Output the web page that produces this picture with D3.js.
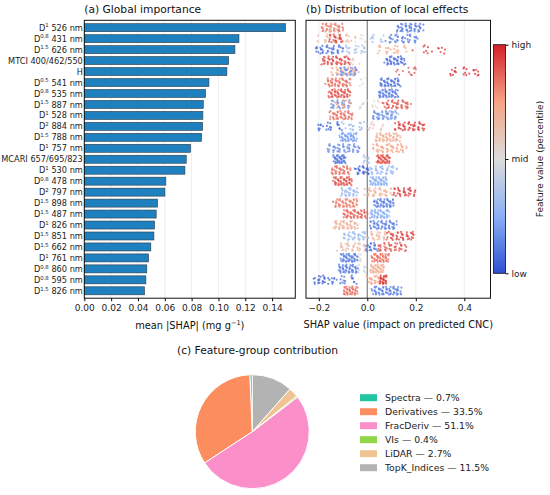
<!DOCTYPE html>
<html>
<head>
<meta charset="utf-8">
<script src="https://cdn.jsdelivr.net/npm/d3@7"></script>
<style>
  body { margin: 0; background: #fff; }
  svg { font-family: "DejaVu Sans", sans-serif; }
</style>
</head>
<body>
<div id="chart"></div>
<script>
// feature labels, "^" marks the derivative order
var features = [
  "D^1 526 nm", "D^0.8 431 nm", "D^1.5 626 nm", "MTCI 400/462/550", "H",
  "D^0.5 541 nm", "D^0.8 535 nm", "D^1.5 887 nm", "D^1 528 nm", "D^2 884 nm",
  "D^1.5 788 nm", "D^1 757 nm", "MCARI 657/695/823", "D^1 530 nm", "D^0.8 478 nm",
  "D^2 797 nm", "D^1.5 898 nm", "D^1.5 487 nm", "D^1 826 nm", "D^1.5 851 nm",
  "D^1.5 662 nm", "D^1 761 nm", "D^0.8 860 nm", "D^0.8 595 nm", "D^1.5 826 nm"
];
// mean |SHAP|
var meanShap = [
  0.150, 0.1153, 0.1123, 0.1076, 0.1063,
  0.0929, 0.0904, 0.0887, 0.0884, 0.0882,
  0.0874, 0.0792, 0.0760, 0.0750, 0.0608,
  0.0601, 0.0546, 0.0536, 0.0524, 0.0519,
  0.0496, 0.0479, 0.0466, 0.0459, 0.0449
];
var barTicks = [0, 0.02, 0.04, 0.06, 0.08, 0.10, 0.12, 0.14];

// local effects, read per row as groups of dots: [shap from, shap to, feature percentile (0-1), dots]
var localEffects = [
  [[-0.19,-0.10,0.85,40],[-0.17,-0.12,0.62,15],[0.12,0.23,0.10,45]],
  [[-0.20,-0.05,0.70,26],[-0.16,-0.10,0.95,20],[-0.05,0.0,0.50,7],[0.01,0.065,0.30,9],[0.08,0.21,0.12,38]],
  [[-0.215,-0.10,0.08,38],[-0.10,0.0,0.35,24],[0.04,0.16,0.72,24],[0.20,0.33,0.95,14]],
  [[-0.19,-0.07,0.92,52],[-0.07,-0.04,0.60,6],[0.073,0.155,0.08,42]],
  [[-0.15,-0.04,0.70,36],[-0.12,-0.04,0.15,30],[0.12,0.22,0.90,12],[0.33,0.47,0.97,22]],
  [[-0.17,-0.07,0.85,50],[-0.03,0.0,0.55,4],[0.05,0.135,0.10,46]],
  [[-0.16,-0.07,0.90,52],[0.045,0.127,0.12,48]],
  [[-0.155,-0.065,0.15,30],[-0.13,-0.07,0.75,14],[-0.05,0.06,0.55,14],[0.066,0.176,0.90,42]],
  [[-0.155,-0.06,0.85,46],[0.018,0.121,0.15,42],[0.06,0.12,0.30,12]],
  [[-0.215,-0.10,0.05,22],[-0.10,0.0,0.30,20],[0.0,0.07,0.60,12],[0.114,0.238,0.95,46]],
  [[-0.113,-0.044,0.20,45],[0.032,0.135,0.70,55]],
  [[-0.167,-0.03,0.15,50],[0.024,0.16,0.75,50]],
  [[-0.14,-0.09,0.10,42],[-0.02,0.01,0.35,12],[0.039,0.094,0.90,46]],
  [[-0.15,-0.07,0.85,38],[-0.05,0.01,0.05,24],[0.01,0.12,0.30,38]],
  [[-0.14,-0.064,0.90,50],[0.01,0.083,0.25,50]],
  [[-0.11,-0.04,0.30,32],[-0.01,0.10,0.70,36],[0.106,0.197,0.95,32]],
  [[-0.14,-0.04,0.82,52],[0.026,0.11,0.12,48]],
  [[-0.10,0.0,0.88,52],[0.01,0.09,0.25,48]],
  [[-0.14,-0.04,0.70,48],[0.01,0.12,0.12,52]],
  [[-0.10,0.0,0.30,36],[0.005,0.08,0.70,22],[0.08,0.197,0.93,42]],
  [[-0.12,0.0,0.65,38],[-0.005,0.04,0.10,20],[0.04,0.16,0.90,42]],
  [[-0.11,-0.04,0.12,46],[-0.04,-0.02,0.50,8],[0.018,0.09,0.85,46]],
  [[-0.12,-0.04,0.12,46],[-0.04,0.0,0.45,10],[0.01,0.07,0.70,44]],
  [[-0.22,-0.16,0.05,22],[-0.16,-0.04,0.08,22],[0.0,0.08,0.75,36],[0.05,0.08,0.97,20]],
  [[-0.10,-0.04,0.85,40],[0.02,0.14,0.12,60]]
];
var effectTicks = [-0.2, 0.0, 0.2, 0.4];
var colorbarTicks = [[0, "low"], [0.5, "mid"], [1, "high"]];

// feature groups
var groups = ["Spectra", "Derivatives", "FracDeriv", "VIs", "LiDAR", "TopK_Indices"];
var groupShare = [0.7, 33.5, 51.1, 0.4, 2.7, 11.5];
var groupColors = ["#22c4a2", "#fc8d5e", "#fb8fca", "#8fd64a", "#f0c393", "#b3b3b3"];

var width = 550, height = 495;
var svg = d3.select("#chart").append("svg")
  .attr("width", width).attr("height", height);

var rowTop = 20.3, rowBottom = 298.2;
var yScale = d3.scaleLinear().domain([-0.675, 24.675]).range([rowTop, rowBottom]);
var step = yScale(1) - yScale(0);

// ---------- (a) global importance
var ax = {left: 84.3, right: 295.3};
var xBar = d3.scaleLinear().domain([0, 0.1573]).range([ax.left, ax.right]);
var ga = svg.append("g");

ga.selectAll("line.grid").data(barTicks).enter().append("line")
  .attr("x1", function(d) { return xBar(d); }).attr("x2", function(d) { return xBar(d); })
  .attr("y1", rowTop).attr("y2", rowBottom)
  .attr("stroke", "#e8e8e8").attr("stroke-width", 0.8);

ga.selectAll("rect.bar").data(meanShap).enter().append("rect")
  .attr("x", xBar(0))
  .attr("y", function(d, i) { return yScale(i) - step * 0.365; })
  .attr("width", function(d) { return xBar(d) - xBar(0); })
  .attr("height", step * 0.73)
  .attr("fill", "#1f80c0")
  .attr("stroke", "#2b3a44").attr("stroke-width", 0.6);

ga.append("g")
  .attr("transform", "translate(0," + rowBottom + ")")
  .call(d3.axisBottom(xBar).tickValues(barTicks).tickFormat(d3.format(".2f")).tickSize(3).tickPadding(3))
  .call(function(g) {
    g.select(".domain").remove();
    g.selectAll("text").attr("font-size", 9).attr("fill", "#222").attr("font-family", "DejaVu Sans");
  });

// y labels with superscripts
var yl = ga.selectAll("text.ylab").data(features).enter().append("text")
  .attr("x", ax.left - 1.5)
  .attr("y", function(d, i) { return yScale(i) + 3.1; })
  .attr("text-anchor", "end")
  .attr("font-size", 8.2).attr("fill", "#222");
yl.each(function(d) {
  var t = d3.select(this);
  var m = d.match(/^D\^([\d.]+)(.*)$/);
  if (!m) { t.text(d); return; }
  t.append("tspan").text("D");
  t.append("tspan").attr("font-size", 5.4).attr("dy", -3.3).text(m[1]);
  t.append("tspan").attr("dy", 3.3).text(m[2]);
});

ga.append("rect")
  .attr("x", ax.left).attr("y", rowTop)
  .attr("width", ax.right - ax.left).attr("height", rowBottom - rowTop)
  .attr("fill", "none").attr("stroke", "#111").attr("stroke-width", 1);

ga.append("text").attr("x", ax.left).attr("y", 13)
  .attr("font-size", 10.7).attr("fill", "#111").text("(a) Global importance");

var xl = ga.append("text").attr("x", (ax.left + ax.right) / 2).attr("y", 329)
  .attr("text-anchor", "middle").attr("font-size", 9.8).attr("fill", "#111");
xl.append("tspan").text("mean |SHAP| (mg g");
xl.append("tspan").attr("font-size", 6.6).attr("dy", -4).text("\u22121");
xl.append("tspan").attr("dy", 4).text(")");

// ---------- (b) local effects
var bx = {left: 306, right: 490.5};
var xEff = d3.scaleLinear().domain([-0.2528, 0.508]).range([bx.left, bx.right]);
var color = d3.scaleLinear()
  .domain([0, 0.25, 0.5, 0.75, 1])
  .range(["#2d4fd2", "#8ab0f4", "#dcdcdc", "#f5a484", "#d41f2a"]);
var gb = svg.append("g");

gb.selectAll("line.grid").data(effectTicks.filter(function(d) { return d !== 0; })).enter().append("line")
  .attr("x1", function(d) { return xEff(d); }).attr("x2", function(d) { return xEff(d); })
  .attr("y1", rowTop).attr("y2", rowBottom)
  .attr("stroke", "#e8e8e8").attr("stroke-width", 0.8);

gb.append("line")
  .attr("x1", xEff(0)).attr("x2", xEff(0))
  .attr("y1", rowTop).attr("y2", rowBottom)
  .attr("stroke", "#8a8a8a").attr("stroke-width", 1.3);

// dot layout inside each group (offsets only shape the swarm)
var spreadY = [0, 0.62, -0.55, 0.9, -0.85, 0.3, -0.25, 0.75, -0.7, 0.45, -0.4, 0.15, -0.95, 0.55, -0.1, 0.82, -0.35];
var spreadX = [0.3, -0.8, 1.1, -0.2, 0.7, -1.2, 0.05, 0.9, -0.55, 1.3, -1.0, 0.45, -0.35, 0.6, -0.7];
var dots = [];
localEffects.forEach(function(row, i) {
  row.forEach(function(g, k) {
    var gap = (g[1] - g[0]) / g[3];
    for (var j = 0; j < g[3]; j++) {
      dots.push({
        row: i,
        v: g[0] + gap * (j + 0.5 + spreadX[(j * 4 + k + i) % spreadX.length] * 1.6),
        c: g[2],
        dy: spreadY[(j * 7 + k * 3 + i) % spreadY.length]
      });
    }
  });
});

gb.selectAll("circle").data(dots).enter().append("circle")
  .attr("cx", function(d) { return xEff(d.v); })
  .attr("cy", function(d) { return yScale(d.row) + d.dy * 4.4; })
  .attr("r", 1.1)
  .attr("fill", function(d) { return color(d.c); })
  .attr("opacity", 0.75);

gb.append("g")
  .attr("transform", "translate(0," + rowBottom + ")")
  .call(d3.axisBottom(xEff).tickValues(effectTicks).tickFormat(d3.format(".1f")).tickSize(3).tickPadding(3))
  .call(function(g) {
    g.select(".domain").remove();
    g.selectAll("text").attr("font-size", 9).attr("fill", "#222").attr("font-family", "DejaVu Sans");
  });

gb.append("rect")
  .attr("x", bx.left).attr("y", rowTop)
  .attr("width", bx.right - bx.left).attr("height", rowBottom - rowTop)
  .attr("fill", "none").attr("stroke", "#111").attr("stroke-width", 1);

gb.append("text").attr("x", bx.left).attr("y", 13)
  .attr("font-size", 10.7).attr("fill", "#111").text("(b) Distribution of local effects");

gb.append("text").attr("x", (bx.left + bx.right) / 2).attr("y", 328)
  .attr("text-anchor", "middle").attr("font-size", 9.8).attr("fill", "#111")
  .text("SHAP value (impact on predicted CNC)");

// colorbar
var cb = {x: 493.5, w: 12, top: 44.7, bottom: 273.3};
var cbScale = d3.scaleLinear().domain([0, 1]).range([cb.bottom, cb.top]);
var grad = svg.append("defs").append("linearGradient")
  .attr("id", "cbgrad").attr("x1", 0).attr("y1", 1).attr("x2", 0).attr("y2", 0);
grad.selectAll("stop").data(color.domain()).enter().append("stop")
  .attr("offset", function(d) { return d; })
  .attr("stop-color", function(d) { return color(d); });
gb.append("rect")
  .attr("x", cb.x).attr("y", cb.top).attr("width", cb.w).attr("height", cb.bottom - cb.top)
  .attr("fill", "url(#cbgrad)").attr("stroke", "#111").attr("stroke-width", 0.8);
gb.append("g")
  .attr("transform", "translate(" + (cb.x + cb.w) + ",0)")
  .call(d3.axisRight(cbScale).tickValues(colorbarTicks.map(function(d) { return d[0]; }))
    .tickFormat(function(d, i) { return colorbarTicks[i][1]; }).tickSize(3).tickPadding(3))
  .call(function(g) {
    g.select(".domain").remove();
    g.selectAll("text").attr("font-size", 9).attr("fill", "#222").attr("font-family", "DejaVu Sans");
  });
gb.append("text")
  .attr("transform", "translate(543," + ((cb.top + cb.bottom) / 2) + ") rotate(-90)")
  .attr("text-anchor", "middle").attr("font-size", 9).attr("fill", "#222")
  .text("Feature value (percentile)");

// ---------- (c) feature-group contribution
var gc = svg.append("g");
gc.append("text").attr("x", 177).attr("y", 354)
  .attr("font-size", 10.7).attr("fill", "#111").text("(c) Feature-group contribution");

var pie = d3.pie().sort(null).startAngle(0).endAngle(-2 * Math.PI);
var arc = d3.arc().innerRadius(0).outerRadius(57);
gc.append("g")
  .attr("transform", "translate(252.3,431.7)")
  .selectAll("path").data(pie(groupShare)).enter().append("path")
  .attr("d", arc)
  .attr("fill", function(d, i) { return groupColors[i]; })
  .attr("stroke", "#fff").attr("stroke-width", 1);

var legend = gc.selectAll("g.leg").data(groups).enter().append("g")
  .attr("transform", function(d, i) { return "translate(360," + (397.7 + i * 14) + ")"; });
legend.append("rect")
  .attr("x", 0).attr("y", -3.5).attr("width", 17).attr("height", 7)
  .attr("fill", function(d, i) { return groupColors[i]; });
legend.append("text")
  .attr("x", 25).attr("y", 3.3)
  .attr("font-size", 9.3).attr("fill", "#222")
  .text(function(d, i) { return d + " \u2014 " + groupShare[i].toFixed(1) + "%"; });
</script>
</body>
</html>
